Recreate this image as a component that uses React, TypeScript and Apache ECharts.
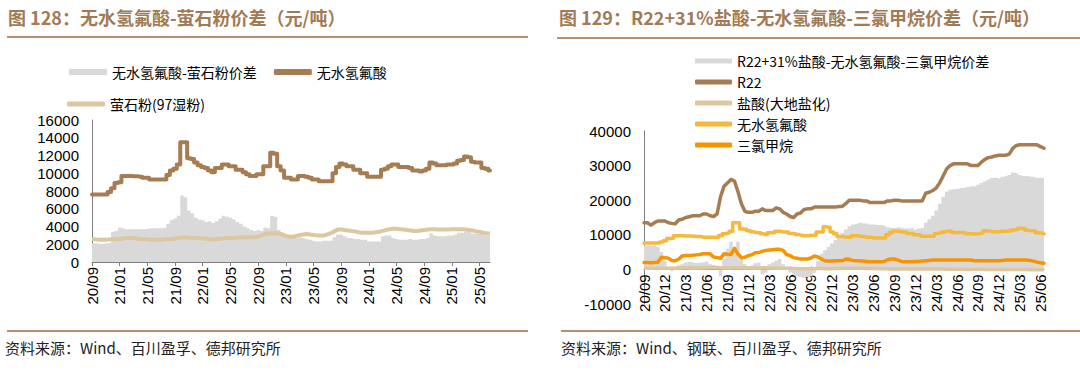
import React, { useEffect, useRef } from "react";
import * as echarts from "echarts";

// half-month sample dates from 2020-09 (first half) to 2025-06 (second half)
const dates: string[] = [];
for (let y = 2020; y <= 2025; y++) {
  for (let m = 1; m <= 12; m++) {
    if ((y === 2020 && m < 9) || (y === 2025 && m > 6)) continue;
    const mm = String(m).padStart(2, "0");
    dates.push(`${y}-${mm}-01`);
    dates.push(`${y}-${mm}-16`);
  }
}

// 无水氢氟酸 (元/吨)
const hfPrice = [
  7600, 7600, 7600, 7600, 7600, 7900, 8300, 8900, 9000, 9700,
  9700, 9700, 9650, 9650, 9600, 9500, 9500, 9300, 9300, 9300,
  9300, 9300, 9800, 10300, 10500, 11000, 13500, 13500, 11700, 11600,
  11200, 10900, 10700, 10600, 10300, 10100, 10600, 10600, 11000, 11000,
  10800, 10800, 10400, 10400, 10100, 9900, 9700, 9700, 9900, 9900,
  10800, 10800, 12300, 12200, 10800, 10300, 9500, 9500, 9300, 9300,
  9700, 9700, 9600, 9500, 9300, 9300, 9100, 9100, 9100, 9100,
  10000, 10700, 11100, 11000, 10800, 10800, 10400, 10400, 10000, 10000,
  9600, 9600, 9600, 9600, 10400, 10500, 10800, 11000, 11000, 10700,
  10700, 10700, 10600, 10300, 10300, 10200, 10300, 10500, 11200, 11100,
  10900, 10900, 10900, 11000, 11000, 11100, 11400, 11500, 11900, 11800,
  11300, 11200, 11200, 10600, 10500, 10300,
];

// 萤石粉(97湿粉)
const fluoritePrice = [
  2600, 2550, 2500, 2500, 2500, 2550, 2550, 2600, 2600, 2650,
  2700, 2700, 2700, 2650, 2600, 2600, 2550, 2500, 2500, 2500,
  2500, 2550, 2600, 2600, 2650, 2700, 2750, 2750, 2750, 2700,
  2700, 2700, 2650, 2650, 2550, 2550, 2600, 2650, 2650, 2700,
  2700, 2700, 2750, 2750, 2800, 2800, 2800, 2800, 2850, 3000,
  3150, 3200, 3250, 3250, 3200, 3100, 2950, 2850, 2850, 2950,
  3050, 3100, 3150, 3100, 3050, 3000, 3000, 3000, 3100, 3250,
  3450, 3650, 3650, 3600, 3550, 3500, 3450, 3350, 3300, 3300,
  3300, 3300, 3350, 3400, 3500, 3600, 3700, 3750, 3750, 3700,
  3650, 3600, 3550, 3500, 3500, 3550, 3600, 3650, 3700, 3700,
  3650, 3650, 3650, 3650, 3700, 3700, 3700, 3700, 3650, 3600,
  3550, 3450, 3400, 3300, 3250, 3200,
];

// 无水氢氟酸-萤石粉价差
const hfFluoriteSpread = [
  2100, 2100, 2050, 2050, 2100, 2150, 3400, 3500, 3900, 3800,
  3700, 3700, 3700, 3700, 3700, 3700, 3750, 3800, 3800, 3800,
  3800, 3850, 4300, 4700, 4900, 5200, 7500, 7300, 5800, 5500,
  5000, 4800, 4700, 4500, 4600, 4400, 4600, 4900, 5200, 5100,
  5000, 4800, 4500, 4300, 4000, 3800, 3600, 3500, 3600, 3500,
  3900, 3800, 5200, 5100, 3600, 3300, 3000, 2900, 2800, 2700,
  2800, 2700, 2600, 2500, 2400, 2300, 2300, 2400, 2400, 2400,
  2800, 3100, 3100, 2900, 2700, 2700, 2600, 2600, 2500, 2500,
  2300, 2300, 2300, 2300, 2900, 3000, 3000, 2700, 2600, 2500,
  2500, 2500, 2600, 2500, 2500, 2600, 2600, 2700, 3200, 3000,
  2900, 2900, 2900, 3000, 3000, 3100, 3300, 3300, 3400, 3400,
  3200, 3200, 3200, 3100, 3000, 3000,
];

// R22
const r22Price = [
  13500, 13500, 12800, 13500, 14000, 14000, 14000, 13500, 13300, 13200,
  14300, 14500, 15000, 15200, 15500, 15500, 15500, 16000, 16000, 15500,
  15300, 16000, 21000, 24000, 25000, 26000, 25500, 22500, 19000, 16800,
  16500, 16500, 16800, 16800, 17500, 17000, 17000, 17000, 17800, 17500,
  16500, 16000, 15300, 15000, 16000, 16300, 17300, 17500, 17500, 18000,
  18000, 18000, 18000, 18000, 18000, 18000, 18200, 18200, 19000, 20000,
  20000, 20000, 20000, 19800, 19800, 19300, 19300, 19300, 19300, 19300,
  19800, 19800, 20000, 20000, 19800, 19800, 19800, 19800, 19800, 19800,
  19800, 22000, 22300, 22800, 23500, 25000, 27000, 29000, 30000, 30500,
  30500, 30500, 30500, 30500, 30000, 30000, 30000, 31000, 31800, 32300,
  32500, 32800, 33000, 33000, 33000, 33300, 35000, 35800, 36000, 36000,
  36000, 36000, 36000, 36000, 35500, 35000,
];

// 盐酸(大地盐化)
const hclPrice = [
  300, 300, 300, 350, 350, 300, 300, 350, 400, 400,
  400, 450, 450, 450, 400, 400, 450, 500, 550, 600,
  600, 550, 500, 500, 500, 450, 450, 500, 500, 450,
  450, 400, 400, 400, 450, 450, 400, 400, 350, 350,
  300, 300, 300, 250, 250, 200, 200, 200, 200, 250,
  250, 250, 200, 200, 200, 250, 250, 300, 300, 300,
  300, 300, 300, 300, 250, 250, 250, 200, 200, 200,
  200, 150, 150, 150, 100, 100, 100, 100, 100, 150,
  150, 150, 150, 100, 100, 100, 100, 50, 50, 50,
  50, 50, 0, 0, 0, 50, 50, 50, 0, 0,
  0, -50, -50, -50, -50, 0, 0, 0, -50, -50,
  -50, -100, -100, -100, -100, -100,
];

// 三氯甲烷
const chcl3Price = [
  2000, 2000, 1900, 2000, 2100, 3500, 3400, 3200, 2600, 2500,
  3000, 3900, 4000, 4000, 4100, 4200, 4300, 4500, 4500, 4500,
  3600, 3400, 3200, 4500, 4400, 4300, 6100, 4500, 3400, 3500,
  4000, 4200, 4800, 4900, 5200, 5500, 5600, 5700, 5800, 5800,
  5500, 4300, 4000, 3400, 3200, 3000, 3000, 3000, 3300, 3900,
  3600, 3000, 2500, 2400, 2400, 2500, 2500, 2500, 3000, 2900,
  2600, 2500, 2400, 2400, 2300, 2200, 2200, 2200, 2200, 2300,
  2800, 3000, 3000, 2700, 2300, 2200, 2200, 2200, 2300, 2300,
  2400, 2500, 2600, 2700, 2700, 2700, 2700, 2700, 2700, 2700,
  2700, 2700, 2700, 2700, 2700, 2500, 2500, 2500, 2500, 2500,
  2500, 2500, 2500, 2600, 2700, 2700, 2700, 2700, 2700, 2700,
  2700, 2600, 2400, 2100, 1900, 1800,
];

// R22+31%盐酸-无水氢氟酸-三氯甲烷价差
const r22Spread = [
  7000, 7000, 6800, 7000, 6500, 5000, 2500, 500, -500, 300,
  1200, 1500, 2000, 2200, 2000, 1800, 2000, 2000, 2300, 1500,
  1200, 800, -2000, 3000, 6000, 8000, 5000, 8000, 3000, 1500,
  1000, 1200, 1800, 2000, -1500, -1000, 1500, 2000, 2500, 3000,
  1500, 200, -800, -1500, -2000, -2300, -2500, -2200, -2000, -1000,
  2500, 4500, 5500, 6500, 7500, 8500, 9500, 10500, 11500, 12500,
  13000, 13200, 13500, 13300, 13300, 13000, 13000, 12800, 12800, 12700,
  12200, 12000, 12000, 12200, 12000, 11800, 11800, 12000, 11500, 11800,
  12000, 13500, 14500, 15500, 17000, 19000, 21000, 22500, 23000, 23200,
  23300, 23500, 23500, 23800, 24000, 24000, 24500, 25000, 25500, 26000,
  26500, 26500, 26300, 26800, 27000, 27300, 28000, 27800, 27300, 27000,
  27000, 26800, 26800, 26500, 26500, 26300,
];

const LEFT_TITLE = "图 128：无水氢氟酸-萤石粉价差（元/吨）";
const RIGHT_TITLE = "图 129：R22+31%盐酸-无水氢氟酸-三氯甲烷价差（元/吨）";
const LEFT_SOURCE = "资料来源：Wind、百川盈孚、德邦研究所";
const RIGHT_SOURCE = "资料来源：Wind、钢联、百川盈孚、德邦研究所";

const CJK = '"Noto Sans CJK SC", sans-serif';
const LATIN = '"Liberation Sans", Arial, sans-serif';
const BROWN = "#a67c52";
const TAN = "#dcc7a1";
const GREY = "#d9d9d9";
const YELLOW = "#f6b93b";
const ORANGE = "#f79400";
const TITLE_COLOR = "#a27a55";
const RULE_COLOR = "#b4926f";
const AXIS_COLOR = "#7f7f7f";

const fmtDate = (v: string) => v.slice(2, 4) + "/" + v.slice(5, 7);
const fmtNum = (v: number) => String(v);
const stripTag = (n: string) => n.replace("#2", "");

export default function App() {
  const ref = useRef<HTMLDivElement>(null);
  useEffect(() => {
    if (!ref.current) return;
    const chart = echarts.init(ref.current, undefined, { renderer: "svg" });
    const labelBase = {
      rotate: 90,
      formatter: fmtDate,
      fontSize: 15,
      color: "#000",
      fontFamily: LATIN,
      margin: 5,
    };
    const yAxisBase = {
      type: "value",
      splitLine: { show: false },
      axisLine: { show: true, onZero: false, lineStyle: { color: AXIS_COLOR, width: 1 } },
      axisTick: { show: false },
      axisLabel: { fontSize: 15, color: "#000", fontFamily: LATIN, margin: 13, formatter: fmtNum },
    };
    const legendText = { fontSize: 14, color: "#000", fontFamily: CJK };
    chart.setOption({
      animation: false,
      grid: [
        { left: 92, right: 590, top: 120, bottom: 108 },
        { left: 644, right: 36, top: 131, bottom: 66 },
      ],
      xAxis: [
        {
          type: "category",
          data: dates,
          boundaryGap: false,
          gridIndex: 0,
          splitLine: { show: false },
          axisLine: { onZero: false, lineStyle: { color: AXIS_COLOR, width: 1 } },
          axisTick: { show: true, interval: 7, length: 4, lineStyle: { color: AXIS_COLOR } },
          axisLabel: { ...labelBase, interval: 7 },
        },
        {
          type: "category",
          data: dates,
          boundaryGap: false,
          gridIndex: 1,
          offset: -34.6,
          splitLine: { show: false },
          axisLine: { onZero: false, lineStyle: { color: AXIS_COLOR, width: 1 } },
          axisTick: { show: true, inside: true, interval: 5, length: 3, lineStyle: { color: AXIS_COLOR } },
          axisLabel: { ...labelBase, interval: 5 },
        },
      ],
      yAxis: [
        { ...yAxisBase, gridIndex: 0, min: 0, max: 16000, interval: 2000 },
        { ...yAxisBase, gridIndex: 1, min: -10000, max: 40000, interval: 10000 },
      ],
      legend: [
        {
          left: 64,
          top: 60,
          itemWidth: 38,
          itemHeight: 6,
          itemGap: 17,
          textStyle: legendText,
          formatter: stripTag,
          data: [
            { name: "无水氢氟酸-萤石粉价差", icon: "rect" },
            { name: "无水氢氟酸", icon: "roundRect" },
          ],
        },
        {
          left: 62,
          top: 92,
          itemWidth: 38,
          itemHeight: 5,
          textStyle: legendText,
          data: [{ name: "萤石粉(97湿粉)", icon: "roundRect" }],
        },
        {
          orient: "vertical",
          left: 690,
          top: 49,
          itemWidth: 37,
          itemHeight: 5,
          itemGap: 7,
          textStyle: legendText,
          formatter: stripTag,
          data: [
            { name: "R22+31%盐酸-无水氢氟酸-三氯甲烷价差", icon: "rect" },
            { name: "R22", icon: "roundRect" },
            { name: "盐酸(大地盐化)", icon: "roundRect" },
            { name: "无水氢氟酸#2", icon: "roundRect" },
            { name: "三氯甲烷", icon: "roundRect" },
          ],
        },
      ],
      series: [
        {
          name: "无水氢氟酸-萤石粉价差",
          type: "line",
          xAxisIndex: 0,
          yAxisIndex: 0,
          data: hfFluoriteSpread,
          step: "middle",
          symbol: "none",
          color: GREY,
          lineStyle: { width: 0, color: GREY },
          itemStyle: { color: GREY },
          areaStyle: { color: GREY, opacity: 1 },
          z: 1,
        },
        {
          name: "萤石粉(97湿粉)",
          type: "line",
          xAxisIndex: 0,
          yAxisIndex: 0,
          data: fluoritePrice,
          symbol: "none",
          color: TAN,
          lineStyle: { width: 4, color: TAN },
          itemStyle: { color: TAN },
          z: 3,
        },
        {
          name: "无水氢氟酸",
          type: "line",
          xAxisIndex: 0,
          yAxisIndex: 0,
          data: hfPrice,
          step: "middle",
          symbol: "none",
          color: BROWN,
          lineStyle: { width: 4, color: BROWN, join: "round", cap: "round" },
          itemStyle: { color: BROWN },
          z: 4,
        },
        {
          name: "R22+31%盐酸-无水氢氟酸-三氯甲烷价差",
          type: "line",
          xAxisIndex: 1,
          yAxisIndex: 1,
          data: r22Spread,
          step: "middle",
          symbol: "none",
          color: GREY,
          lineStyle: { width: 0, color: GREY },
          itemStyle: { color: GREY },
          areaStyle: { color: GREY, opacity: 1 },
          z: 1,
        },
        {
          name: "R22",
          type: "line",
          xAxisIndex: 1,
          yAxisIndex: 1,
          data: r22Price,
          symbol: "none",
          color: BROWN,
          lineStyle: { width: 3.5, color: BROWN, join: "round", cap: "round" },
          itemStyle: { color: BROWN },
          z: 4,
        },
        {
          name: "盐酸(大地盐化)",
          type: "line",
          xAxisIndex: 1,
          yAxisIndex: 1,
          data: hclPrice,
          symbol: "none",
          color: TAN,
          lineStyle: { width: 3.5, color: TAN },
          itemStyle: { color: TAN },
          z: 3,
        },
        {
          name: "无水氢氟酸#2",
          type: "line",
          xAxisIndex: 1,
          yAxisIndex: 1,
          data: hfPrice,
          step: "middle",
          symbol: "none",
          color: YELLOW,
          lineStyle: { width: 3.5, color: YELLOW, join: "round", cap: "round" },
          itemStyle: { color: YELLOW },
          z: 4,
        },
        {
          name: "三氯甲烷",
          type: "line",
          xAxisIndex: 1,
          yAxisIndex: 1,
          data: chcl3Price,
          symbol: "none",
          color: ORANGE,
          lineStyle: { width: 3.5, color: ORANGE, join: "round", cap: "round" },
          itemStyle: { color: ORANGE },
          z: 4,
        },
      ],
      graphic: [
        {
          type: "text",
          left: 8,
          top: 8,
          style: { text: LEFT_TITLE, fill: TITLE_COLOR, fontSize: 18, fontWeight: "bold", fontFamily: CJK },
        },
        {
          type: "text",
          left: 559,
          top: 8,
          style: { text: RIGHT_TITLE, fill: TITLE_COLOR, fontSize: 18, fontWeight: "bold", fontFamily: CJK },
        },
        { type: "line", shape: { x1: 7, y1: 37, x2: 528, y2: 37 }, style: { stroke: RULE_COLOR, lineWidth: 2 } },
        { type: "line", shape: { x1: 557, y1: 38, x2: 1080, y2: 38 }, style: { stroke: RULE_COLOR, lineWidth: 2 } },
        { type: "line", shape: { x1: 7, y1: 331, x2: 528, y2: 331 }, style: { stroke: RULE_COLOR, lineWidth: 2 } },
        { type: "line", shape: { x1: 561, y1: 331, x2: 1080, y2: 331 }, style: { stroke: RULE_COLOR, lineWidth: 2 } },
        {
          type: "text",
          left: 5,
          top: 340,
          style: { text: LEFT_SOURCE, fill: "#222", fontSize: 15, fontFamily: CJK },
        },
        {
          type: "text",
          left: 561,
          top: 340,
          style: { text: RIGHT_SOURCE, fill: "#222", fontSize: 15, fontFamily: CJK },
        },
      ],
    });
    return () => chart.dispose();
  }, []);
  return (
    <div
      ref={ref}
      style={{ position: "absolute", left: 0, top: 0, width: 1080, height: 370, background: "#fff" }}
    />
  );
}
